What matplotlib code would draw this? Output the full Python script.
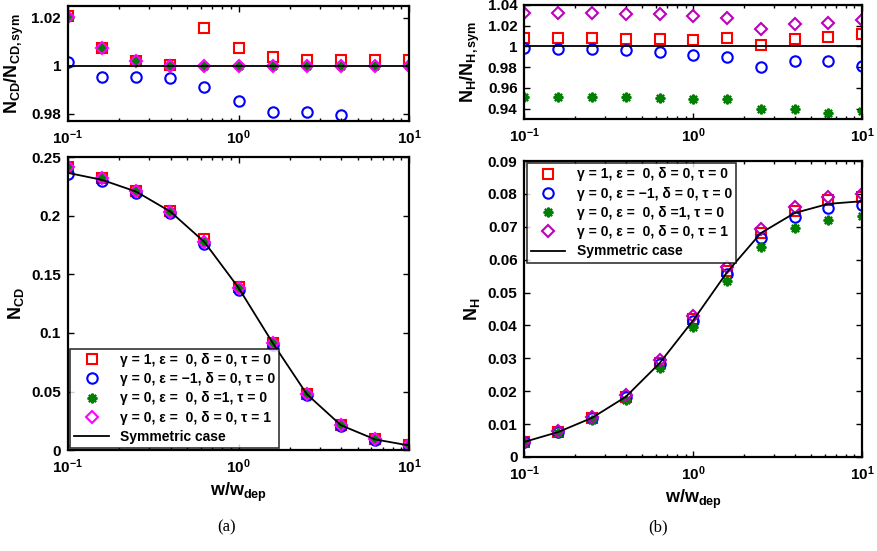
import numpy as np
import matplotlib
matplotlib.use('Agg')
import matplotlib.pyplot as plt
from matplotlib import ticker

# w / w_dep sample points (log spaced)
w = [0.1, 0.1585, 0.2512, 0.3981, 0.631, 1.0, 1.585, 2.512, 3.981, 6.31, 10.0]

# (a) ratio N_CD / N_CD,sym
cd_ratio_gam = [1.0205, 1.0075, 1.0021, 1.0002, 1.0158, 1.0073, 1.0038, 1.0025, 1.0025, 1.0025, 1.0025]
cd_ratio_eps = [1.0016, 0.9955, 0.9953, 0.9948, 0.9914, 0.9853, 0.9808, 0.9808, 0.9795, np.nan, np.nan]
cd_ratio_del = [1.0203, 1.0075, 1.0021, 1.0000, 0.9998, 0.9998, 0.9998, 0.9998, 0.9998, 0.9998, 0.9998]
cd_ratio_tau = [1.0203, 1.0075, 1.0021, 1.0000, 0.9998, 0.9998, 0.9998, 0.9998, 0.9998, 0.9998, 0.9998]

# (a) N_CD
cd_sym = [0.2365, 0.2305, 0.2205, 0.2035, 0.1775, 0.1385, 0.0915, 0.0478, 0.0213, 0.0092, 0.0040]
cd_gam = [0.2415, 0.2322, 0.2210, 0.2036, 0.1803, 0.1395, 0.0918, 0.0479, 0.0214, 0.0092, 0.0040]
cd_eps = [0.2355, 0.2295, 0.2195, 0.2025, 0.1760, 0.1365, 0.0898, 0.0469, 0.0209, 0.0090, 0.0039]
cd_del = [0.2415, 0.2322, 0.2210, 0.2035, 0.1775, 0.1385, 0.0915, 0.0478, 0.0213, 0.0092, 0.0040]
cd_tau = [0.2415, 0.2322, 0.2210, 0.2035, 0.1775, 0.1385, 0.0915, 0.0478, 0.0213, 0.0092, 0.0040]

# (b) ratio N_H / N_H,sym
h_ratio_gam = [1.0077, 1.0077, 1.0077, 1.0071, 1.0068, 1.0061, 1.0084, 1.0013, 1.0071, 1.0087, 1.0116]
h_ratio_eps = [0.9984, 0.9977, 0.9974, 0.9968, 0.9945, 0.9913, 0.9897, 0.9806, 0.9861, 0.9855, 0.9816]
h_ratio_del = [0.9513, 0.9513, 0.9516, 0.9516, 0.9503, 0.9497, 0.9497, 0.9394, 0.9397, 0.9361, 0.9380]
h_ratio_tau = [1.0323, 1.0326, 1.0323, 1.0316, 1.0310, 1.0290, 1.0274, 1.0168, 1.0220, 1.0229, 1.0255]

# (b) N_H
h_sym = [0.0046, 0.0076, 0.0119, 0.0183, 0.0285, 0.0416, 0.0562, 0.0681, 0.0742, 0.0770, 0.0778]
h_gam = [0.00464, 0.00766, 0.0120, 0.0184, 0.0287, 0.0419, 0.0567, 0.0682, 0.0747, 0.0781, 0.0790]
h_eps = [0.0046, 0.0076, 0.0119, 0.0182, 0.0284, 0.0413, 0.0556, 0.0665, 0.0730, 0.0758, 0.0768]
h_del = [0.0044, 0.0072, 0.0113, 0.0174, 0.0271, 0.0395, 0.0534, 0.0640, 0.0697, 0.0720, 0.0733]
h_tau = [0.0047, 0.0078, 0.0123, 0.0189, 0.0294, 0.0428, 0.0577, 0.0692, 0.0760, 0.0790, 0.0800]

labels = ['γ = 1, ε =  0, δ = 0, τ = 0',
          'γ = 0, ε = −1, δ = 0, τ = 0',
          'γ = 0, ε =  0, δ =1, τ = 0',
          'γ = 0, ε =  0, δ = 0, τ = 1',
          'Symmetric case']

plt.rcParams['font.family'] = 'Liberation Sans'
plt.rcParams['font.weight'] = 'bold'
plt.rcParams['mathtext.fontset'] = 'custom'
plt.rcParams['mathtext.rm'] = 'Liberation Sans:bold'
plt.rcParams['mathtext.it'] = 'Liberation Sans:bold'
plt.rcParams['mathtext.bf'] = 'Liberation Sans:bold'
plt.rcParams['mathtext.default'] = 'bf'

fig = plt.figure(figsize=(8.77, 5.51), dpi=100)


def style(ax, ylim, yticks):
  ax.set_xscale('log')
  ax.set_xlim(0.1, 10)
  ax.set_ylim(*ylim)
  ax.set_yticks(yticks)
  ax.yaxis.set_major_formatter(ticker.FormatStrFormatter('%g'))
  ax.tick_params(which='both', direction='in', top=True, right=True,
                 labelsize=11, width=1, pad=5)
  ax.tick_params(which='major', length=4)
  ax.tick_params(which='minor', length=2)
  for lbl in ax.get_yticklabels():
    lbl.set_fontweight('bold')
  for s in ax.spines.values():
    s.set_linewidth(1.6)


def draw(ax, ys, sym, tau_col):
  ax.plot(w, ys[0], 's', mfc='none', mec='red', ms=6.5, mew=1.5, label=labels[0])
  ax.plot(w, ys[1], 'o', mfc='none', mec='blue', ms=7.5, mew=1.5, label=labels[1])
  ax.plot(w, ys[2], marker=(8, 2, 0), ls='none', color=(0, 0.5, 0), ms=7, mew=1.6, label=labels[2])
  ax.plot(w, ys[3], 'D', mfc='none', mec=tau_col, ms=6.2, mew=1.5, label=labels[3])
  if sym is None:
    ax.axhline(1, color='k', lw=1.3, label=labels[4])
  else:
    ax.plot(w, sym, 'k-', lw=1.3, label=labels[4])


def add_legend(ax, loc):
  leg = ax.legend(loc=loc, fontsize=10, fancybox=False, edgecolor='k',
                  borderaxespad=0.15, handlelength=2.5, labelspacing=0.38,
                  borderpad=0.3, numpoints=1)
  leg.get_frame().set_linewidth(1.2)


# top left
ax1 = fig.add_axes([0.0775, 0.780, 0.389, 0.209])
draw(ax1, [cd_ratio_gam, cd_ratio_eps, cd_ratio_del, cd_ratio_tau], None, '#ff00ff')
style(ax1, (0.977, 1.0248), [0.98, 1.0, 1.02])
ax1.set_ylabel(r'$N_{CD}/N_{CD,sym}$', fontsize=13)

# top right
ax2 = fig.add_axes([0.598, 0.784, 0.385, 0.207])
draw(ax2, [h_ratio_gam, h_ratio_eps, h_ratio_del, h_ratio_tau], None, '#bf00bf')
style(ax2, (0.930, 1.04), [0.94, 0.96, 0.98, 1.0, 1.02, 1.04])
ax2.set_ylabel(r'$N_H/N_{H,sym}$', fontsize=13)

# bottom left
ax3 = fig.add_axes([0.0775, 0.183, 0.389, 0.532])
draw(ax3, [cd_gam, cd_eps, cd_del, cd_tau], cd_sym, '#ff00ff')
style(ax3, (0, 0.25), [0, 0.05, 0.1, 0.15, 0.2, 0.25])
ax3.set_ylabel(r'$N_{CD}$', fontsize=13)
ax3.set_xlabel(r'$w/w_{dep}$', fontsize=13)
add_legend(ax3, 'lower left')

# bottom right
ax4 = fig.add_axes([0.598, 0.1706, 0.385, 0.537])
draw(ax4, [h_gam, h_eps, h_del, h_tau], h_sym, '#bf00bf')
style(ax4, (0, 0.09), [0, 0.01, 0.02, 0.03, 0.04, 0.05, 0.06, 0.07, 0.08, 0.09])
ax4.set_ylabel(r'$N_H$', fontsize=13)
ax4.set_xlabel(r'$w/w_{dep}$', fontsize=13)
add_legend(ax4, 'upper left')

fig.text(0.258, 0.035, '(a)', family='Liberation Serif', weight='normal', fontsize=12, ha='center')
fig.text(0.750, 0.035, '(b)', family='Liberation Serif', weight='normal', fontsize=12, ha='center')

plt.savefig('out.png', dpi=100)
